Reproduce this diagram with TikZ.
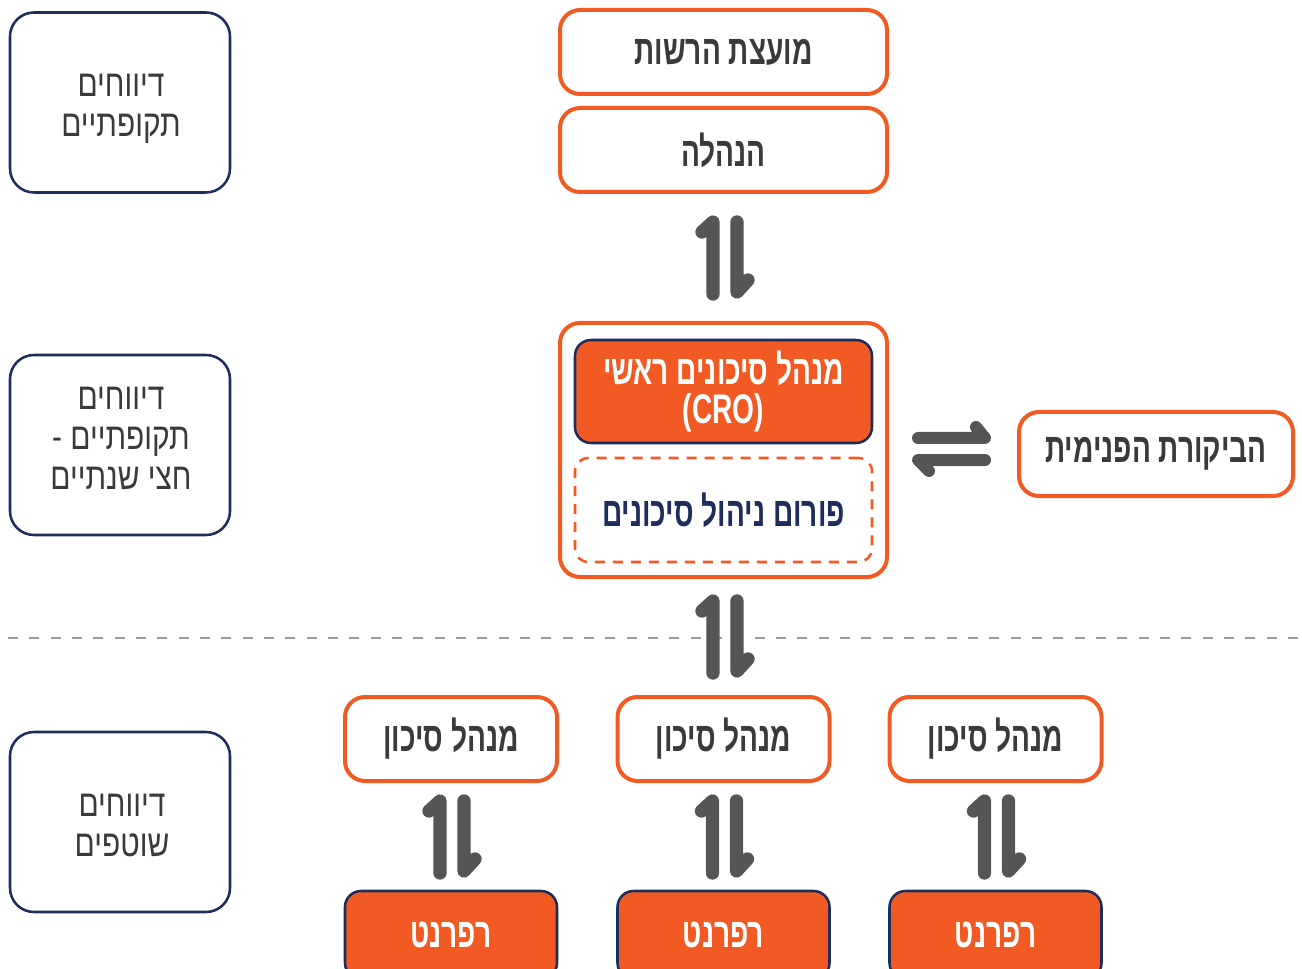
\documentclass[tikz,border=0pt]{standalone}
\usepackage{fontspec}
\setmainfont{Liberation Sans}
\newfontfamily\hebc[Script=Hebrew,FakeStretch=0.68]{Liberation Sans}
\newfontfamily\hebl[Script=Hebrew,FakeStretch=0.80]{Liberation Sans}
\TeXXeTstate=1
\newcommand\RL[1]{\beginR #1\endR}
\definecolor{org}{HTML}{F15A22}
\definecolor{navy}{HTML}{1F2D5C}
\definecolor{txt}{HTML}{3A3A3A}
\definecolor{arr}{HTML}{555555}
\definecolor{sep}{HTML}{9C9C9C}
\tikzset{
  leftbox/.style={draw=navy, line width=1.9pt, rounded corners=18pt, fill=white,
    minimum width=165pt, minimum height=135pt},
  lefttext/.style={align=center, text=txt, font=\hebl\fontsize{28pt}{30pt}\selectfont},
  obox/.style={draw=org, line width=3pt, rounded corners=15pt, fill=white,
    minimum width=159pt, minimum height=63pt, align=center, text=txt,
    font=\hebc\bfseries\fontsize{31pt}{29pt}\selectfont},
  wide/.style={minimum width=245.25pt},
  fbox/.style={draw=navy, line width=1.9pt, rounded corners=12pt, fill=org,
    minimum width=159pt, minimum height=66pt, align=center, text=white,
    font=\hebc\bfseries\fontsize{31pt}{29pt}\selectfont},
  harp/.style={draw=arr, line width=10pt, line cap=round, line join=round},
  harpv/.pic={
    \draw[harp] (-23,-26) -- (-12,-36) -- (-12,36);
    \draw[harp] (12,-36) -- (12,34) -- (23,22);
  },
  harph/.pic={
    \draw[harp,line width=9pt] (-34,-11) -- (33,-11) -- (24,-22);
    \draw[harp,line width=9pt] (33,11) -- (-34,11) -- (-23,22);
  },
}
\begin{document}
\begin{tikzpicture}[x=0.75pt,y=-0.75pt]
\useasboundingbox (0,0) rectangle (1302,969);
\clip (0,0) rectangle (1302,969);
% left column
\node[leftbox] (l1) at (120,102.5) {};
\node[lefttext] (l1t) at (121,109) {\RL{דיווחים}\\\RL{תקופתיים}};
\node[leftbox] (l2) at (120,445) {};
\node[lefttext] (l2t) at (121,438) {\RL{דיווחים}\\\RL{תקופתיים -}\\\RL{חצי שנתיים}};
\node[leftbox] (l3) at (120,822) {};
\node[lefttext] (l3t) at (122,825) {\RL{דיווחים}\\\RL{שוטפים}};
% top
\node[obox,wide] (board) at (723.5,52) {\RL{מועצת הרשות}};
\node[obox,wide] (mgmt) at (723.5,150) {\RL{הנהלה}};
\pic at (725,258) {harpv};
% center container
\node[obox,wide,minimum height=190.5pt] (cont) at (723.5,450) {};
\node[fbox,minimum width=222.75pt,minimum height=77.25pt] (cro) at (723.5,391.5)
  {\RL{מנהל סיכונים ראשי}\\(CRO)};
\node[draw=org, line width=1.9pt, dash pattern=on 7.5pt off 6pt, rounded corners=10pt,
  minimum width=222.75pt, minimum height=78pt, text=navy,
  font=\hebc\bfseries\fontsize{31pt}{29pt}\selectfont] (forum) at (723.5,510) {\RL{פורום ניהול סיכונים}};
\pic at (952,449) {harph};
\node[obox,minimum width=205.5pt] (audit) at (1156,454) {\RL{הביקורת הפנימית}};
% separator
\coordinate (s1) at (8,638);
\coordinate (s2) at (1302,638);
\draw[sep, line width=2.2pt, dash pattern=on 7.5pt off 8.5pt] (s1) -- (s2);
\pic at (725,637) {harpv};
% bottom
\foreach \i/\x in {1/451,2/723.5,3/995.5}{
  \node[obox] (rm\i) at (\x,739) {\RL{מנהל סיכון}};
  \pic at (\x+1,837) {harpv};
  \node[fbox] (ref\i) at (\x,935) {\RL{רפרנט}};
}
\end{tikzpicture}
\end{document}
